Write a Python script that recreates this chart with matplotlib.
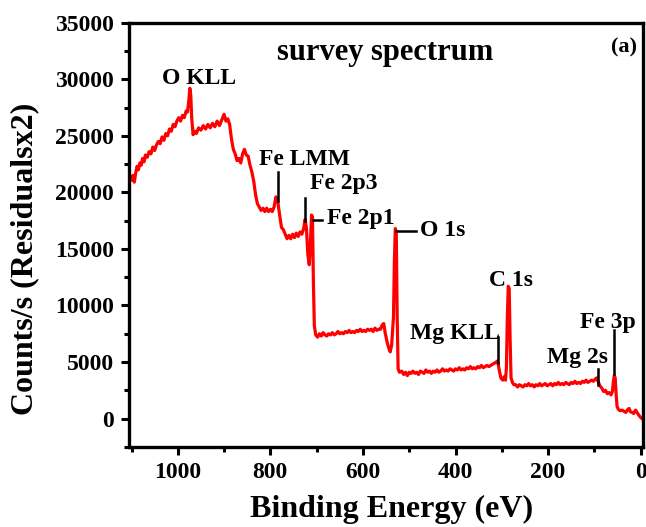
import numpy as np
import matplotlib
matplotlib.use("Agg")
import matplotlib.pyplot as plt
from matplotlib.ticker import MultipleLocator

plt.rcParams["font.family"] = ["Liberation Serif", "DejaVu Serif"]
plt.rcParams["font.weight"] = "bold"

# survey spectrum (binding energy in eV, counts/s)
energy = [
    1100, 1097, 1094, 1091, 1088, 1085, 1082, 1079, 1076, 1073, 1070, 1066, 1062, 1058,
    1054, 1050, 1046, 1042, 1038, 1034, 1030, 1026, 1022, 1018, 1014, 1010, 1006, 1002,
    998, 994, 990, 986, 982, 979, 976, 974, 972, 970, 967, 964,
    960, 955, 950, 945, 940, 935, 930, 925, 920, 915, 910, 905, 900, 896, 892, 888,
    884, 880, 876, 872, 868, 864, 860, 856, 852, 848, 844, 840, 836, 832, 828, 824,
    820, 816, 812, 808, 804, 800, 796, 792, 788, 784, 780, 776, 772, 768, 764, 760,
    756, 752, 748, 744, 740, 736, 732, 728, 725, 722, 719, 716, 714, 711, 709, 707,
    705, 702, 698, 694, 690, 686, 682, 678, 674, 670, 666, 662, 658, 654, 650, 646,
    642, 638, 634, 630, 626, 622, 618, 614, 610, 606, 602, 598, 594, 590, 586, 582,
    578, 574, 570, 566, 562, 558, 555, 552, 548, 544, 541, 538, 534, 532, 530, 528,
    526, 524, 521,
    516, 512, 508, 504, 500, 496, 492, 488, 484, 480, 476, 472, 468, 464, 460, 456,
    452, 448, 444, 440, 436, 432, 428, 424, 420, 416, 412, 408, 404, 400, 396, 392,
    388, 384, 380, 376, 372, 368, 364, 360, 356, 352, 348, 344, 340, 336, 332, 328,
    324, 320, 316, 312, 309, 306, 302, 298, 295, 292, 290, 288, 286, 284, 282, 280,
    277, 274, 270, 266, 262, 258, 254, 250, 246, 242, 238, 234, 230, 226, 222, 218,
    214, 210, 206, 202, 198, 194, 190, 186, 182, 178, 174, 170, 166, 162, 158, 154,
    150, 146, 142, 138, 134, 130, 126, 122, 118, 114, 110, 106, 102, 98, 95, 92,
    88, 84, 80, 76, 72, 68, 64, 61, 59, 57, 55, 53, 51, 48, 44, 40,
    36, 32, 28, 25, 22, 18, 15, 11, 7, 3, 0, -3,
]
counts = [
    21100, 21500, 20900, 21700, 22300, 22000, 22600, 22400, 23000, 22700, 23300, 23100, 23600, 23400,
    24000, 23700, 24200, 24500, 24300, 24900, 24600, 25200, 25000, 25600, 25400, 26000, 25800, 26300,
    26600, 26300, 26800, 26600, 27200, 27100, 28200, 29200, 28600, 26600, 25100, 25400,
    25200, 25700, 25500, 25900, 25600, 26000, 25700, 26100, 25800, 26300, 25900, 26400, 26900, 26300, 26500, 26000,
    24700, 23800, 23400, 22800, 23000, 22600, 23400, 23800, 23300, 23200, 22400, 21800, 21000, 19800, 19000, 18700,
    18400, 18600, 18300, 18600, 18300, 18500, 18300, 18700, 19600, 19200, 18000, 16900, 16700, 16300, 15900, 16200,
    15900, 16300, 16000, 16400, 16100, 16500, 16300, 16800, 17600, 16800, 14500, 13600, 15000, 18000, 17800, 12000,
    8200, 7400, 7200, 7500, 7300, 7600, 7400, 7300, 7500, 7400, 7600, 7400, 7500, 7700, 7500, 7600,
    7500, 7700, 7600, 7800, 7600, 7700, 7600, 7800, 7700, 7900, 7700, 7800, 7700, 7900, 7800, 7900,
    7700, 8000, 7800, 7900, 7900, 8300, 8400, 7600, 6800, 6200, 5900, 6500, 9000, 14000, 16800, 16500,
    9000, 4400, 4100,
    4200, 3900, 4100, 3800, 4100, 4000, 4200, 4000, 4100, 3900, 4200, 4100, 4000, 4300, 4100, 4200,
    4000, 4200, 4100, 4300, 4100, 4200, 4400, 4200, 4300, 4200, 4400, 4300, 4200, 4400, 4300, 4500,
    4300, 4400, 4300, 4500, 4400, 4600, 4400, 4500, 4400, 4600, 4500, 4700, 4500, 4600, 4700, 4600,
    4700, 4800, 4900, 5000, 5100, 4400, 3600, 3400, 3700, 3400, 4500, 9000, 11700, 11500, 7000, 3600,
    3200, 3000, 3000, 2800, 3000, 2900, 2800, 3000, 2900, 3100, 2900, 3000, 2800, 3000, 2900, 3100,
    2900, 3000, 3100, 2900, 3000, 3100, 2900, 3100, 3000, 3200, 3000, 3100, 3000, 3200, 3100, 3000,
    3200, 3100, 3300, 3100, 3200, 3100, 3300, 3200, 3400, 3200, 3300, 3400, 3300, 3500, 3600, 3300,
    2900, 2700, 2400, 2500, 2200, 2300, 2100, 2400, 3200, 3800, 3600, 2200, 1100, 800, 700, 750,
    650, 550, 800, 900, 600, 550, 450, 750, 500, 250, 100, 0,
]

# peak labels: text, text position, alignment, marker line (x0, y0, x1, y1) or None
peak_labels = [
    ("O KLL", 955, 30100, "center", None),
    ("Fe LMM", 825, 22900, "left", (784, 21800, 784, 19200)),
    ("Fe 2p3", 715, 20800, "left", (726, 19500, 726, 17500)),
    ("Fe 2p1", 678, 17700, "left", (708, 17600, 689, 17600)),
    ("O 1s", 477, 16600, "left", (529, 16600, 486, 16600)),
    ("Mg KLL", 402, 7500, "center", (309, 7200, 309, 4900)),
    ("C 1s", 281, 12200, "center", None),
    ("Mg 2s", 136, 5400, "center", (93, 4400, 93, 3000)),
    ("Fe 3p", 71, 8500, "center", (58, 7800, 58, 3900)),
]

fig = plt.figure(figsize=(6.46, 5.27), dpi=100)
ax = fig.add_axes([0.2, 0.152, 0.796, 0.805])

ax.plot(energy, counts, color="red", lw=2.3)

for text, tx, ty, ha, seg in peak_labels:
    if seg is not None:
        ax.plot([seg[0], seg[2]], [seg[1], seg[3]], color="black", lw=1.8)
    ax.text(tx, ty, text, ha=ha, va="center", fontsize=17, fontweight="bold")

ax.text(551, 32400, "survey spectrum", ha="center", va="center", fontsize=22, fontweight="bold")
ax.text(35, 32800, "(a)", ha="center", va="center", fontsize=16, fontweight="bold")

ax.set_xlim(1105, -6)
ax.set_ylim(-2500, 35000)
ax.xaxis.set_major_locator(MultipleLocator(200))
ax.xaxis.set_minor_locator(MultipleLocator(100))
ax.yaxis.set_major_locator(MultipleLocator(5000))
ax.yaxis.set_minor_locator(MultipleLocator(2500))

for sp in ax.spines.values():
    sp.set_linewidth(2.4)
ax.tick_params(which="major", direction="out", length=6, width=2.2, labelsize=17, pad=5)
ax.tick_params(which="minor", direction="out", length=3.5, width=2.2)
for lab in ax.get_xticklabels() + ax.get_yticklabels():
    lab.set_fontweight("bold")

ax.set_xlabel("Binding Energy (eV)", fontsize=23, fontweight="bold")
ax.set_ylabel("Counts/s (Residualsx2)", fontsize=23, fontweight="bold")
ax.xaxis.set_label_coords(0.51, -0.113)
ax.yaxis.set_label_coords(-0.175, 0.443)

fig.savefig("out.png", dpi=100)
